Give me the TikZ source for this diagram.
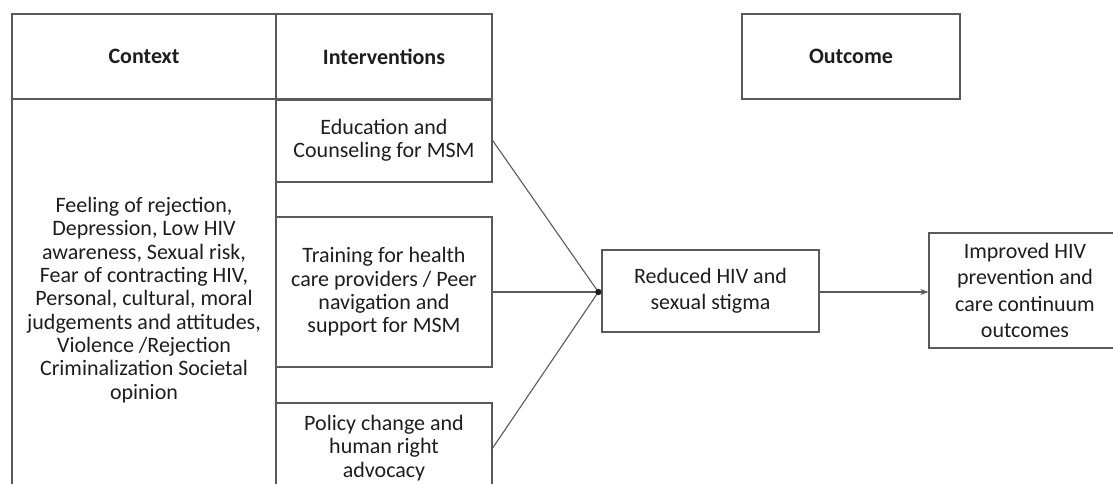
\documentclass[tikz,border=0pt]{standalone}
\usepackage{fontspec}
\setmainfont{Carlito}
\usetikzlibrary{calc,arrows.meta}
\definecolor{edge}{HTML}{5A5A5A}
\definecolor{ink}{HTML}{1E1E1E}
\tikzset{
  box/.style={draw=edge, line width=1.3pt, fill=white, text=ink, align=center,
    inner sep=0pt, font=\fontsize{22pt}{23.3pt}\selectfont},
  loose/.style={font=\fontsize{22pt}{26.5pt}\selectfont},
  head/.style={box, font=\fontsize{22pt}{23.3pt}\selectfont\bfseries},
  link/.style={draw=edge, line width=1.1pt},
}
\begin{document}
\begin{tikzpicture}[x=1pt,y=-1pt]
\useasboundingbox (0,0) rectangle (1113,484);

% column headers
\node[head, minimum width=264pt, minimum height=85pt] (ctxhead) at (144,56.5) {Context};
\node[head, minimum width=216pt, minimum height=85pt] (inthead) at (384,56.5) {Interventions};
\node[head, minimum width=218pt, minimum height=85pt] (outhead) at (851,56.5) {Outcome};

% context column
\node[box, minimum width=264pt, minimum height=402pt] (ctx) at (144,300)
  {Feeling of rejection,\\Depression, Low HIV\\awareness, Sexual risk,\\Fear of contracting HIV,\\Personal, cultural, moral\\judgements and attitudes,\\Violence /Rejection\\Criminalization Societal\\opinion};

% interventions
\node[box, minimum width=216pt, minimum height=83pt] (edu) at (384,140.5)
  {Education and\\Counseling for MSM};
\node[box, minimum width=216pt, minimum height=150pt] (train) at (384,292)
  {Training for health\\care providers / Peer\\navigation and\\support for MSM};
\node[box, minimum width=216pt, minimum height=90pt] (policy) at (384,448)
  {Policy change and\\human right\\advocacy};
\draw[draw=edge, line width=2pt] (inthead.south west) -- (inthead.south east);

% outcomes
\node[box, loose, minimum width=217pt, minimum height=82pt] (reduced) at (710.5,291)
  {Reduced HIV and\\sexual stigma};
\node[box, loose, minimum width=192pt, minimum height=115pt] (improved) at (1025,290.5)
  {Improved HIV\\prevention and\\care continuum\\outcomes};

% converging links
\coordinate (join) at ($(reduced.west)+(-3,1)$);
\draw[link] (edu.east) -- (join);
\draw[link] (train.east) -- (join);
\draw[link] (policy.east) -- (join);
\fill[ink] (join) circle (3.2pt);
\draw[link, -{Stealth[length=8pt,width=6pt]}] ($(reduced.east)+(0,1)$) -- ($(improved.west)+(0,1.5)$);
\end{tikzpicture}
\end{document}
